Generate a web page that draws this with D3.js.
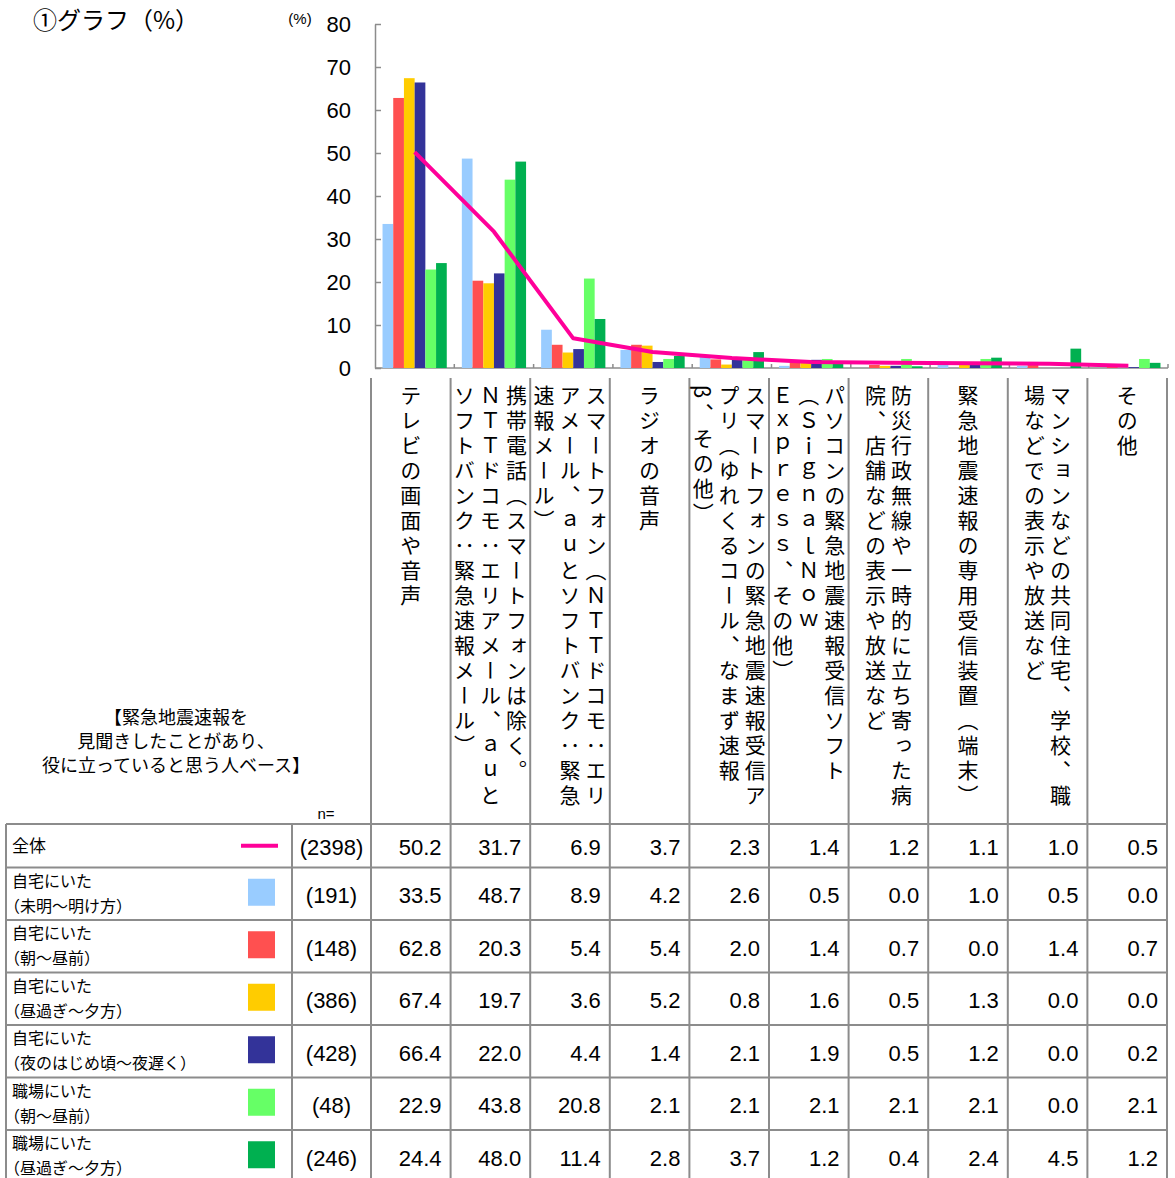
<!DOCTYPE html>
<html>
<head>
<meta charset="utf-8">
<script src="https://cdn.jsdelivr.net/npm/d3@7"></script>
<style>
body { margin: 0; background: #fff; }
text { font-family: "Liberation Sans", Arial, sans-serif; fill: #000; }
.jp { font-family: "Noto Sans CJK JP", sans-serif; }
</style>
</head>
<body>
<div id="chart"></div>
<script>
// category labels, already broken into vertical lines as in the original
var categories = [
    ["テレビの画面や音声"],
    ["携帯電話（スマートフォンは除く。", "ＮＴＴドコモ：エリアメール、ａｕと", "ソフトバンク：緊急速報メール）"],
    ["スマートフォン（ＮＴＴドコモ：エリ", "アメール、ａｕとソフトバンク：緊急", "速報メール）"],
    ["ラジオの音声"],
    ["スマートフォンの緊急地震速報受信ア", "プリ（ゆれくるコール、なまず速報", "β、その他）"],
    ["パソコンの緊急地震速報受信ソフト", "（ＳｉｇｎａｌＮｏｗ", "Ｅｘｐｒｅｓｓ、その他）"],
    ["防災行政無線や一時的に立ち寄った病", "院、店舗などの表示や放送など"],
    ["緊急地震速報の専用受信装置（端末）"],
    ["マンションなどの共同住宅、学校、職", "場などでの表示や放送など"],
    ["その他"]
];

var rowLabels = [
    ["全体"],
    ["自宅にいた", "（未明～明け方）"],
    ["自宅にいた", "（朝～昼前）"],
    ["自宅にいた", "（昼過ぎ～夕方）"],
    ["自宅にいた", "（夜のはじめ頃～夜遅く）"],
    ["職場にいた", "（朝～昼前）"],
    ["職場にいた", "（昼過ぎ～夕方）"]
];
var nValues = [2398, 191, 148, 386, 428, 48, 246];

var totalValues   = [50.2, 31.7, 6.9, 3.7, 2.3, 1.4, 1.2, 1.1, 1.0, 0.5];
var homeDawn      = [33.5, 48.7, 8.9, 4.2, 2.6, 0.5, 0.0, 1.0, 0.5, 0.0];
var homeMorning   = [62.8, 20.3, 5.4, 5.4, 2.0, 1.4, 0.7, 0.0, 1.4, 0.7];
var homeAfternoon = [67.4, 19.7, 3.6, 5.2, 0.8, 1.6, 0.5, 1.3, 0.0, 0.0];
var homeNight     = [66.4, 22.0, 4.4, 1.4, 2.1, 1.9, 0.5, 1.2, 0.0, 0.2];
var workMorning   = [22.9, 43.8, 20.8, 2.1, 2.1, 2.1, 2.1, 2.1, 0.0, 2.1];
var workAfternoon = [24.4, 48.0, 11.4, 2.8, 3.7, 1.2, 0.4, 2.4, 4.5, 1.2];

var yTicks = [0, 10, 20, 30, 40, 50, 60, 70, 80];

var barSeries = [homeDawn, homeMorning, homeAfternoon, homeNight, workMorning, workAfternoon];
var barColors = ["#99ccff", "#ff5050", "#ffcc00", "#333399", "#66ff66", "#00b050"];
var lineColor = "#ff0099";
var gridColor = "#8c8c8c";

var W = 1175, H = 1178;
var svg = d3.select("#chart").append("svg")
    .attr("width", W).attr("height", H);

// title
svg.append("text").attr("class", "jp")
    .attr("x", 33).attr("y", 29)
    .style("font-size", "24px")
    .text("①グラフ（%）");

// scales
var idx = d3.range(categories.length);
var x0 = d3.scaleBand().domain(idx).range([375, 1168])
    .paddingInner(0.19).paddingOuter(0.095);
var x1 = d3.scaleBand().domain(d3.range(barSeries.length)).range([0, x0.bandwidth()]);
var y = d3.scaleLinear().domain([0, 80]).range([368, 24]);

// y axis
var yAxis = svg.append("g")
    .attr("transform", "translate(375,0)")
    .call(d3.axisLeft(y).tickValues(yTicks).tickSizeInner(-6).tickSizeOuter(0).tickPadding(24));
yAxis.select(".domain").attr("stroke", gridColor).attr("stroke-width", 1.5);
yAxis.selectAll(".tick line").attr("stroke", gridColor).attr("stroke-width", 1.5);
yAxis.selectAll(".tick text")
    .style("font-family", "'Liberation Sans', Arial, sans-serif")
    .style("font-size", "22px").attr("fill", "#000");

svg.append("text").attr("x", 300).attr("y", 24)
    .attr("text-anchor", "middle").style("font-size", "15px").text("(%)");

// x baseline and category boundary ticks
svg.append("line").attr("x1", 375).attr("x2", 1168)
    .attr("y1", y(0)).attr("y2", y(0))
    .attr("stroke", gridColor).attr("stroke-width", 1.5);
svg.append("g").selectAll("line")
    .data(d3.range(1, categories.length + 1))
    .enter().append("line")
    .attr("x1", function(d) { return 375 + d * x0.step(); })
    .attr("x2", function(d) { return 375 + d * x0.step(); })
    .attr("y1", y(0)).attr("y2", y(0) - 4)
    .attr("stroke", gridColor).attr("stroke-width", 1.5);

// bars
var groups = svg.append("g").selectAll("g")
    .data(idx).enter().append("g")
    .attr("transform", function(c) { return "translate(" + x0(c) + ",0)"; });
groups.selectAll("rect")
    .data(function(c) { return barSeries.map(function(s, k) { return { k: k, v: s[c] }; }); })
    .enter().append("rect")
    .attr("x", function(d) { return x1(d.k); })
    .attr("width", x1.bandwidth())
    .attr("y", function(d) { return y(d.v); })
    .attr("height", function(d) { return y(0) - y(d.v); })
    .attr("fill", function(d) { return barColors[d.k]; });

// total line
var line = d3.line()
    .x(function(d, i) { return x0(i) + x0.bandwidth() / 2; })
    .y(function(d) { return y(d); });
svg.append("path").datum(totalValues)
    .attr("d", line).attr("fill", "none")
    .attr("stroke", lineColor).attr("stroke-width", 4)
    .attr("stroke-linejoin", "round");

// ---- table ----
var tLeft = 6, labRight = 292, nRight = 371, tRight = 1167;
var colW = (tRight - nRight) / categories.length;
var tTop = 824, firstRowH = 43.5, rowH = 52.5;
function rowTop(r) { return r === 0 ? tTop : tTop + firstRowH + (r - 1) * rowH; }
function rowH_(r) { return r === 0 ? firstRowH : rowH; }
var tBottom = rowTop(rowLabels.length);

var grid = svg.append("g").attr("stroke", gridColor).attr("stroke-width", 2);
// header column lines
d3.range(categories.length + 1).forEach(function(i) {
    grid.append("line")
        .attr("x1", nRight + i * colW).attr("x2", nRight + i * colW)
        .attr("y1", 378).attr("y2", tBottom);
});
grid.append("line").attr("x1", tLeft).attr("x2", tLeft).attr("y1", tTop).attr("y2", tBottom);
grid.append("line").attr("x1", labRight).attr("x2", labRight).attr("y1", tTop).attr("y2", tBottom);
d3.range(rowLabels.length + 1).forEach(function(r) {
    grid.append("line").attr("x1", tLeft).attr("x2", tRight)
        .attr("y1", rowTop(r)).attr("y2", rowTop(r));
});

// vertical category labels
idx.forEach(function(c) {
    var lines = categories[c];
    var cx = nRight + (c + 0.5) * colW;
    var step = 26;
    lines.forEach(function(t, j) {
        svg.append("text").attr("class", "jp")
            .attr("x", cx + ((lines.length - 1) / 2 - j) * step)
            .attr("y", 385)
            .style("writing-mode", "vertical-rl")
            .style("font-size", "21px")
            .style("letter-spacing", "4px")
            .text(t);
    });
});

// header note
var note = ["【緊急地震速報を", "見聞きしたことがあり、", "役に立っていると思う人ベース】"];
note.forEach(function(t, j) {
    svg.append("text").attr("class", "jp")
        .attr("x", 176).attr("y", 724 + j * 24)
        .attr("text-anchor", "middle")
        .style("font-size", "18px").text(t);
});
svg.append("text").attr("x", 326).attr("y", 819)
    .attr("text-anchor", "middle").style("font-size", "15px").text("n=");

// rows
var allSeries = [totalValues].concat(barSeries);
rowLabels.forEach(function(lab, r) {
    var top = rowTop(r), h = rowH_(r), cy = top + h / 2;
    if (lab.length === 1) {
        svg.append("text").attr("class", "jp")
            .attr("x", 12).attr("y", cy + 6)
            .style("font-size", "17px").text(lab[0]);
    } else {
        svg.append("text").attr("class", "jp")
            .attr("x", 12).attr("y", top + 19)
            .style("font-size", "16px").text(lab[0]);
        svg.append("text").attr("class", "jp")
            .attr("x", 4).attr("y", top + 44)
            .style("font-size", "16px").text(lab[1]);
    }
    // legend key
    if (r === 0) {
        svg.append("line").attr("x1", 241).attr("x2", 278)
            .attr("y1", cy).attr("y2", cy)
            .attr("stroke", lineColor).attr("stroke-width", 4);
    } else {
        svg.append("rect").attr("x", 248).attr("y", cy - 15)
            .attr("width", 27).attr("height", 27)
            .attr("fill", barColors[r - 1]);
    }
    svg.append("text")
        .attr("x", (labRight + nRight) / 2).attr("y", cy + 2)
        .attr("text-anchor", "middle").attr("dominant-baseline", "central")
        .style("font-size", "22px").text("(" + nValues[r] + ")");
    allSeries[r].forEach(function(v, c) {
        svg.append("text")
            .attr("x", nRight + (c + 1) * colW - 9).attr("y", cy + 2)
            .attr("text-anchor", "end").attr("dominant-baseline", "central")
            .style("font-size", "22px").text(d3.format(".1f")(v));
    });
});
</script>
</body>
</html>
